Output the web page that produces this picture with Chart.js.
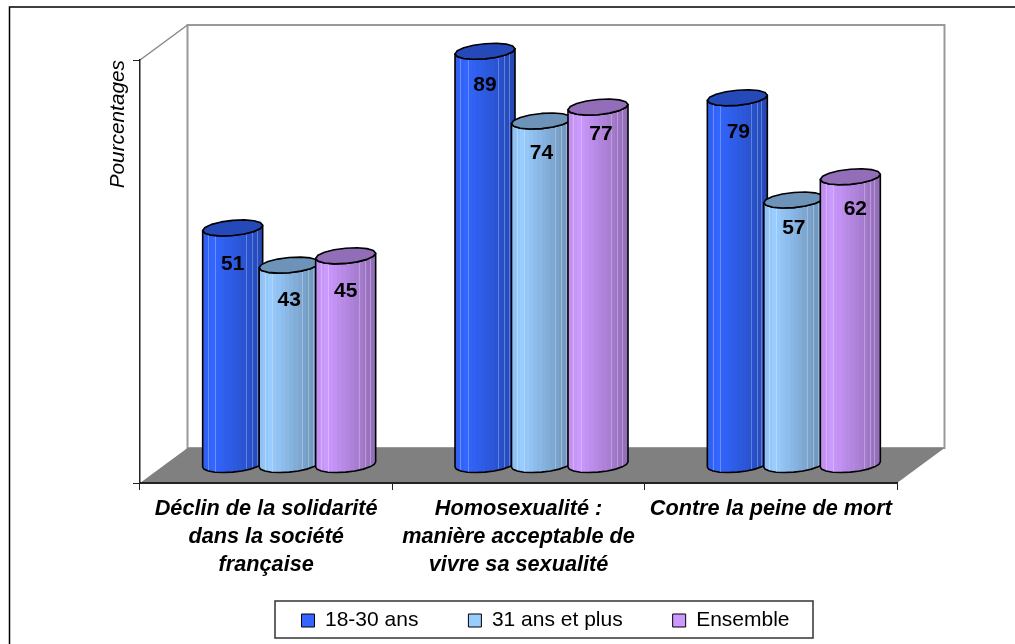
<!DOCTYPE html>
<html><head><meta charset="utf-8">
<style>html,body{margin:0;padding:0;background:#fff}#w{width:1015px;height:644px;position:relative}</style>
<script src="https://cdn.jsdelivr.net/npm/chart.js@4"></script></head>
<body><div id="w"><canvas id="c"></canvas></div>
<script>
const categories = [
  ['Déclin de la solidarité','dans la société','française'],
  ['Homosexualité :','manière acceptable de','vivre sa sexualité'],
  'Contre la peine de mort'
];
const youngValues = [51, 89, 79];
const olderValues = [43, 74, 57];
const allValues = [45, 77, 62];
const seriesNames = ['18-30 ans', '31 ans et plus', 'Ensemble'];
const seriesColors = ['#3366FF', '#99CCFF', '#CC99FF'];

const FONT = '"Liberation Sans", Arial, sans-serif';
const DX = 23, DY = -18, WALL_X = 47.5, WALL_Y = -35;
// hand placement of the value labels, per series then per category
const LABEL_SHIFT = [
  [[0,36],[0,34],[1,34]],
  [[0,35],[0,32],[0,28]],
  [[0,35],[3,27],[5,32]]
];

function hexRgb(h){return [1,3,5].map(i=>parseInt(h.substr(i,2),16));}
function shade(h,f){return 'rgb('+hexRgb(h).map(v=>Math.round(v*f)).join(',')+')';}
function facetShade(p){ return p<0.18 ? 0.93+0.07*p/0.18 : 1-0.29*(p-0.18)/0.82; }
const FACETS = 14;
const HIGHLIGHTS = [0.09, 0.21, 0.72, 0.82, 0.9];

function ring(path,cx,cy,a,b,k,from,to,steps,move){
  for(let i=0;i<=steps;i++){
    const t=from+(to-from)*i/steps;
    const x=cx+a*Math.cos(t), y=cy+b*Math.sin(t)-k*Math.cos(t);
    if(i===0&&move) path.moveTo(x,y); else path.lineTo(x,y);
  }
}
function drawCylinder(ctx,cx,top,base,w,color){
  const a=w/2,b=7.6,k=2.6;
  const g=ctx.createLinearGradient(cx-a,0,cx+a,0);
  for(let i=0;i<FACETS;i++){
    const c=shade(color,facetShade((i+0.5)/FACETS));
    g.addColorStop(i/FACETS,c); g.addColorStop((i+1)/FACETS,c);
  }
  const body=new Path2D();
  body.moveTo(cx-a,top+k);
  ring(body,cx,base,a,b,k,Math.PI,0,10,false);
  ring(body,cx,top,a,b,k,0,Math.PI,8,false);
  body.closePath();
  ctx.save();
  ctx.fillStyle=g; ctx.fill(body);
  ctx.save(); ctx.clip(body);
  ctx.strokeStyle='rgba(255,255,255,0.28)'; ctx.lineWidth=1;
  HIGHLIGHTS.forEach(p=>{const x=Math.round(cx-a+p*w)+0.5;ctx.beginPath();ctx.moveTo(x,top);ctx.lineTo(x,base+b);ctx.stroke();});
  ctx.restore();
  ctx.lineJoin='round'; ctx.strokeStyle='#000'; ctx.lineWidth=1.6;
  ctx.stroke(body);
  const cap=new Path2D();
  ring(cap,cx,top,a,b,k,0,Math.PI*2,16,true);
  cap.closePath();
  ctx.fillStyle=shade(color,0.72); ctx.fill(cap); ctx.stroke(cap);
  ctx.restore();
}

const scene = {
  id:'scene',
  afterLayout(chart){
    const l=chart.legend, pad=l.options.labels.padding;
    const w=l.right-l.left;
    l.left=301.5-pad; l.right=l.left+w;
    l.top=610-pad;
  },
  beforeDraw(chart){
    const {ctx,chartArea:A}=chart;
    ctx.save();
    ctx.fillStyle='#fff'; ctx.fillRect(0,0,chart.width,chart.height);
    ctx.strokeStyle='#000'; ctx.lineWidth=1.5;
    ctx.beginPath(); ctx.moveTo(9.5,chart.height); ctx.lineTo(9.5,7); ctx.lineTo(chart.width,7); ctx.stroke();
    ctx.strokeStyle='#999'; ctx.lineWidth=2;
    ctx.strokeRect(A.left+WALL_X,A.top+WALL_Y,A.width,A.height);
    ctx.strokeStyle='#888'; ctx.lineWidth=1.5;
    ctx.beginPath(); ctx.moveTo(A.left,A.top); ctx.lineTo(A.left+WALL_X,A.top+WALL_Y); ctx.stroke();
    ctx.fillStyle='#808080';
    ctx.beginPath();
    ctx.moveTo(A.left,A.bottom); ctx.lineTo(A.left+WALL_X,A.bottom+WALL_Y);
    ctx.lineTo(A.right+WALL_X,A.bottom+WALL_Y); ctx.lineTo(A.right,A.bottom); ctx.closePath(); ctx.fill();
    ctx.fillStyle='#fff'; ctx.strokeStyle='#333'; ctx.lineWidth=1.5;
    ctx.fillRect(275,601,538,37);
    ctx.strokeRect(275,601,538,37);
    ctx.restore();
  },
  beforeDatasetDraw(){ return false; },
  afterDatasetsDraw(chart){
    const {ctx}=chart;
    chart.data.datasets.forEach((ds,di)=>{
      chart.getDatasetMeta(di).data.forEach(el=>{
        drawCylinder(ctx,el.x+DX,el.y+DY,el.base+DY,el.width,ds.backgroundColor);
      });
    });
    ctx.save();
    ctx.fillStyle='#000'; ctx.textAlign='center'; ctx.textBaseline='middle';
    ctx.font='bold 21px '+FONT;
    chart.data.datasets.forEach((ds,di)=>{
      chart.getDatasetMeta(di).data.forEach((el,i)=>{
        const s=LABEL_SHIFT[di][i];
        ctx.fillText(String(ds.data[i]),el.x+DX+s[0],el.y+DY+s[1]);
      });
    });
    ctx.restore();
  }
};

new Chart(document.getElementById('c'),{
  type:'bar',
  data:{labels:categories,datasets:[
    {label:seriesNames[0],data:youngValues,backgroundColor:seriesColors[0],borderColor:'#000',borderWidth:1},
    {label:seriesNames[1],data:olderValues,backgroundColor:seriesColors[1],borderColor:'#000',borderWidth:1},
    {label:seriesNames[2],data:allValues,backgroundColor:seriesColors[2],borderColor:'#000',borderWidth:1}
  ]},
  options:{
    responsive:true,maintainAspectRatio:false,animation:false,
    layout:{autoPadding:false,padding:{left:90,right:118,top:60,bottom:-20}},
    datasets:{bar:{categoryPercentage:0.6717,barPercentage:1.062}},
    plugins:{
      tooltip:{enabled:false},
      legend:{position:'bottom',align:'start',
        labels:{boxWidth:13,boxHeight:13,padding:50,color:'#000',font:{family:FONT,size:21}}}
    },
    scales:{
      x:{
        afterFit(s){s.height=100;},
        border:{color:'#222',width:2},
        grid:{drawOnChartArea:false,drawTicks:true,tickLength:7,color:'#222',lineWidth:1},
        ticks:{autoSkip:false,maxRotation:0,minRotation:0,padding:5,color:'#000',
          font:{family:FONT,size:21.7,weight:'bold',style:'italic',lineHeight:1.29}}
      },
      y:{
        min:0,max:91,
        afterFit(s){s.width=50;},
        border:{color:'#222',width:1.5},
        grid:{drawOnChartArea:false,drawTicks:true,tickLength:7,color:'#222'},
        ticks:{display:false,stepSize:91},
        title:{display:true,text:'Pourcentages',align:'end',color:'#000',
          padding:{top:15.7,bottom:0},font:{family:FONT,size:20.8,style:'italic'}}
      }
    }
  },
  plugins:[scene]
});
</script></body></html>
